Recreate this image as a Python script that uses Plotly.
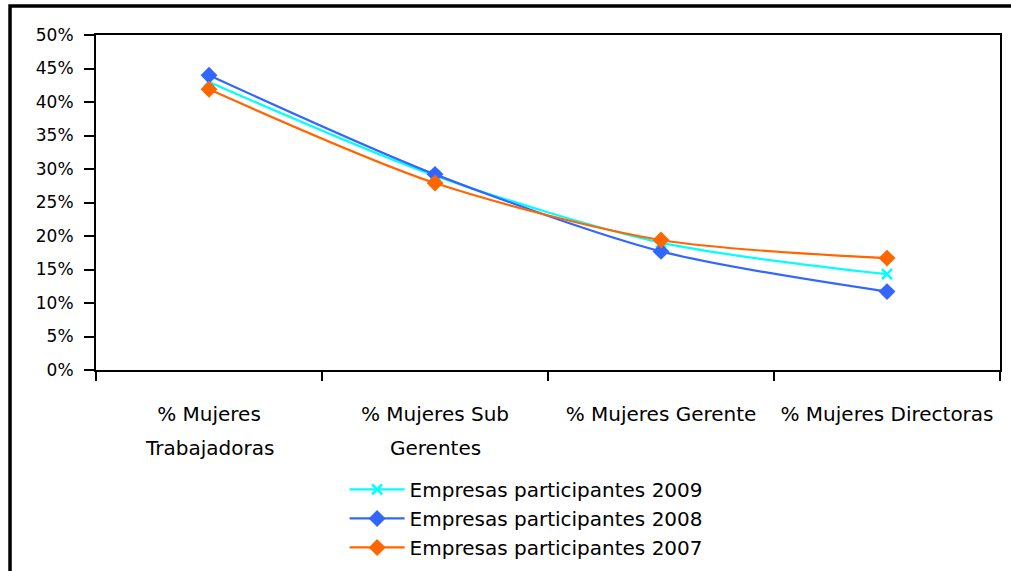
import plotly.graph_objects as go

categories = ["% Mujeres Trabajadoras", "% Mujeres Sub Gerentes", "% Mujeres Gerente", "% Mujeres Directoras"]
tick_line1 = ["% Mujeres", "% Mujeres Sub", "% Mujeres Gerente", "% Mujeres Directoras"]
tick_line2 = ["Trabajadoras", "Gerentes", "", ""]
series_names = ["Empresas participantes 2009", "Empresas participantes 2008", "Empresas participantes 2007"]
values_2009 = [43.0, 29.0, 19.0, 14.3]
values_2008 = [44.0, 29.2, 17.7, 11.7]
values_2007 = [41.9, 27.9, 19.4, 16.7]

colors = ["#00FFFF", "#3366FF", "#FF6600"]
symbols = ["x-thin", "diamond", "diamond"]

FONT = "DejaVu Sans"

fig = go.Figure()
for name, vals, col, sym in zip(series_names, [values_2009, values_2008, values_2007], colors, symbols):
    marker = dict(color=col, size=13, symbol=sym)
    if sym == "x-thin":
        marker = dict(color=col, size=10, symbol=sym, line=dict(color=col, width=2.5))
    fig.add_trace(go.Scatter(
        x=categories, y=vals, name=name, mode="lines+markers",
        line=dict(color=col, width=2.2, shape="spline", smoothing=0.8),
        marker=marker,
    ))

fig.update_layout(
    width=1011, height=571,
    margin=dict(l=96, r=11, t=35, b=201, autoexpand=False),
    paper_bgcolor="white", plot_bgcolor="white",
    font=dict(family=FONT, size=16, color="black"),
    showlegend=True,
    legend=dict(orientation="v", x=0.275, xanchor="left",
                yref="container", y=0.177, yanchor="top",
                font=dict(family=FONT, size=20), tracegroupgap=0, itemwidth=55,
                bgcolor="rgba(0,0,0,0)"),
)
fig.update_xaxes(
    type="category", categoryorder="array", categoryarray=categories,
    tickvals=categories, ticktext=tick_line1,
    range=[-0.5, 3.5], tickson="boundaries",
    ticks="outside", ticklen=9, tickwidth=1.5, tickcolor="black",
    showline=True, linecolor="black", linewidth=2, mirror=True,
    showgrid=False, ticklabelstandoff=25, automargin=False,
    tickfont=dict(family=FONT, size=20),
)
fig.update_yaxes(
    range=[0, 50], dtick=5, ticksuffix="%",
    ticks="outside", ticklen=10, tickwidth=1.5, tickcolor="black",
    showline=True, linecolor="black", linewidth=2, mirror=True,
    showgrid=False, zeroline=False, automargin=False, ticklabelstandoff=7,
    tickfont=dict(family=FONT, size=17),
)
# second line of the wrapped category labels
for cat, txt in zip(categories, tick_line2):
    if txt:
        fig.add_annotation(x=cat, xref="x", y=-0.233, yref="paper", yanchor="middle",
                           text=txt, showarrow=False, font=dict(family=FONT, size=20))
# outer chart border (extends past right/bottom of the image)
fig.add_shape(type="rect", xref="paper", yref="paper",
              x0=-0.0951, x1=1.2, y0=-1.0, y1=1.0866,
              line=dict(color="black", width=3.5), fillcolor="rgba(0,0,0,0)", layer="below")

post = (
    "document.documentElement.style.overflow='hidden';"
    "document.body.style.margin='0';document.body.style.overflow='hidden';"
    "var d=document.querySelector('.plotly-graph-div');"
    "d.style.position='fixed';d.style.left='0px';d.style.top='0px';"
)
fig.write_html("out.html", config={"displayModeBar": False}, post_script=post)
